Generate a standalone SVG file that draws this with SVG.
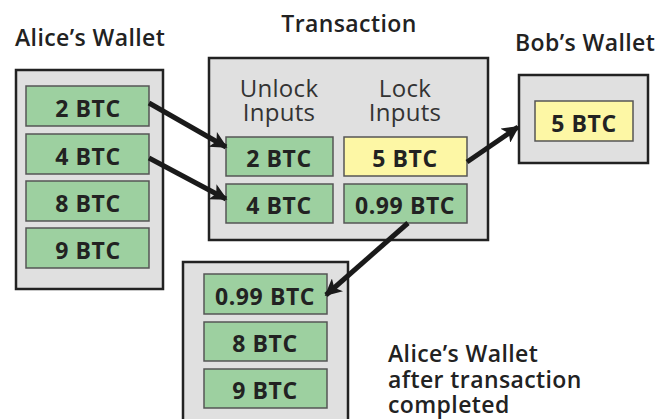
<svg xmlns="http://www.w3.org/2000/svg" width="665" height="419" viewBox="0 0 665 419">
<style>
.wallet{fill:#e0e0e0;stroke:#222;stroke-width:2.5}
.g{fill:#9dd0a0;stroke:#555;stroke-width:1.5}
.y{fill:#fdf7a5;stroke:#555;stroke-width:1.5}
.lbl{font-family:"Open Sans","Liberation Sans",sans-serif;font-weight:700;font-size:23px;letter-spacing:0.6px;fill:#222;text-anchor:middle}
.title{font-family:"Open Sans","Liberation Sans",sans-serif;font-weight:600;font-size:23px;letter-spacing:0.4px;fill:#222}
.sub{font-family:"Open Sans","Liberation Sans",sans-serif;font-weight:400;font-size:24px;letter-spacing:0.3px;fill:#333;text-anchor:middle}
.conn{stroke:#1a1a1a;stroke-width:5;fill:none;marker-end:url(#ah)}
</style>
<defs>
<marker id="ah" viewBox="0 0 10 10" refX="9" refY="5" markerWidth="3.6" markerHeight="3.4" orient="auto" markerUnits="strokeWidth">
<path d="M0,0 L10,5 L0,10 L2.5,5 Z" fill="#1a1a1a"/>
</marker>
</defs>
<rect width="665" height="419" fill="#fff"/>
<g id="alice">
<text class="title" x="15" y="46">Alice’s Wallet</text>
<rect class="wallet" x="16" y="70" width="147" height="219"/>
<rect class="g" x="26" y="86" width="123" height="40"/><text class="lbl" x="88" y="117">2 BTC</text>
<rect class="g" x="26" y="134" width="123" height="40"/><text class="lbl" x="88" y="165">4 BTC</text>
<rect class="g" x="26" y="181" width="123" height="40"/><text class="lbl" x="88" y="212">8 BTC</text>
<rect class="g" x="26" y="228" width="123" height="40"/><text class="lbl" x="88" y="259">9 BTC</text>
</g>
<g id="transaction">
<text class="title" x="349" y="32" text-anchor="middle">Transaction</text>
<rect class="wallet" x="209" y="58" width="279" height="182"/>
<text class="sub" x="279" y="97">Unlock</text>
<text class="sub" x="279" y="121">Inputs</text>
<text class="sub" x="405" y="97">Lock</text>
<text class="sub" x="405" y="121">Inputs</text>
<rect class="g" x="226" y="137" width="107" height="39"/><text class="lbl" x="279" y="167">2 BTC</text>
<rect class="y" x="344" y="137" width="123" height="39"/><text class="lbl" x="405" y="167">5 BTC</text>
<rect class="g" x="226" y="184" width="107" height="39"/><text class="lbl" x="279" y="214">4 BTC</text>
<rect class="g" x="344" y="184" width="123" height="39"/><text class="lbl" x="405" y="214">0.99 BTC</text>
</g>
<g id="bob">
<text class="title" x="515" y="51">Bob’s Wallet</text>
<rect class="wallet" x="519" y="75" width="129" height="88"/>
<rect class="y" x="535" y="101" width="98" height="40"/><text class="lbl" x="584" y="132">5 BTC</text>
</g>
<g id="alice-after">
<rect class="wallet" x="183" y="262" width="165" height="170"/>
<rect class="g" x="204" y="274" width="123" height="40"/><text class="lbl" x="265" y="305">0.99 BTC</text>
<rect class="g" x="204" y="322" width="123" height="39"/><text class="lbl" x="265" y="352">8 BTC</text>
<rect class="g" x="204" y="369" width="123" height="39"/><text class="lbl" x="265" y="399">9 BTC</text>
<text class="title" x="388" y="362">Alice’s Wallet</text>
<text class="title" x="388" y="388">after transaction</text>
<text class="title" x="388" y="413">completed</text>
</g>
<g id="connectors">
<line class="conn" x1="149" y1="103" x2="226" y2="147"/>
<line class="conn" x1="149" y1="158" x2="226" y2="199"/>
<line class="conn" x1="467" y1="162" x2="518" y2="127"/>
<line class="conn" x1="408" y1="223" x2="326" y2="295"/>
</g>
</svg>
